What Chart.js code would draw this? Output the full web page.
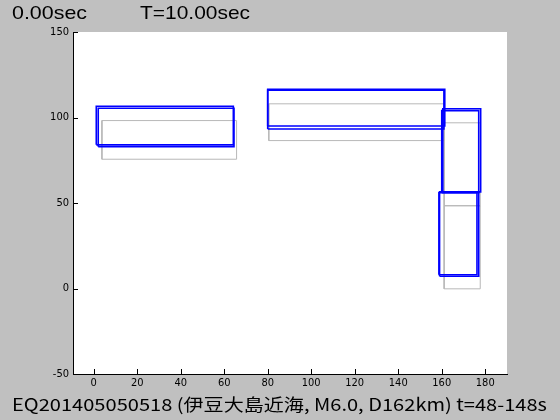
<!DOCTYPE html>
<html>
<head>
<meta charset="utf-8">
<script src="https://cdn.jsdelivr.net/npm/chart.js@4"></script>
<style>
  html, body { margin: 0; padding: 0; background: #c0c0c0; }
  #wrap { width: 560px; height: 420px; position: relative; }
</style>
</head>
<body>
<div id="wrap"><canvas id="c" width="560" height="420"></canvas></div>
<script>
// 断層モデルの矩形 [xmin, xmax, ymin, ymax]
const grayRects = [
  [3.8, 65.7, 75.6, 98.2],
  [80.5, 161.1, 86.5, 108.0],
  [161.1, 177.7, 48.4, 96.9],
  [161.1, 177.7, -0.2, 48.4]
];
const blueRects = [
  [1.2, 64.2, 84.0, 106.6],
  [2.1, 64.5, 82.9, 105.4],
  [80.0, 161.4, 95.0, 116.5],
  [80.0, 161.0, 93.3, 116.0],
  [160.5, 177.9, 56.5, 105.1],
  [160.0, 177.0, 56.0, 104.0],
  [159.0, 177.0, 7.2, 56.5],
  [158.7, 176.2, 8.0, 56.0]
];
const xTicks = [0, 20, 40, 60, 80, 100, 120, 140, 160, 180];
const yTicks = [-50, 0, 50, 100, 150];
const timeLabel = '0.00sec';
const totalLabel = 'T=10.00sec';
const caption = 'EQ201405050518 (伊豆大島近海, M6.0, D162km) t=48-148s';

function outline(r) {
  return [
    { x: r[0], y: r[2] }, { x: r[1], y: r[2] },
    { x: r[1], y: r[3] }, { x: r[0], y: r[3] },
    { x: r[0], y: r[2] }
  ];
}

const datasets = [];
blueRects.forEach(function (r) {
  datasets.push({ data: outline(r), borderColor: '#0000ff', borderWidth: 1.6 });
});
grayRects.forEach(function (r) {
  datasets.push({ data: outline(r), borderColor: '#b8b8b8', borderWidth: 1 });
});
datasets.forEach(function (d) {
  d.showLine = true; d.pointRadius = 0; d.fill = false; d.tension = 0;
});

// 横幅を合わせて文字を描く
function stretchText(ctx, text, x, y, width) {
  const w = ctx.measureText(text).width;
  ctx.save();
  ctx.translate(x, y);
  ctx.scale(width / w, 1);
  ctx.fillText(text, 0, 0);
  ctx.restore();
}

// 白い描画領域・内向きの目盛り・テキスト
const decor = {
  id: 'decor',
  beforeDraw: function (chart) {
    const ctx = chart.ctx, a = chart.chartArea;
    ctx.save();
    ctx.fillStyle = '#c0c0c0';
    ctx.fillRect(0, 0, chart.width, chart.height);
    ctx.fillStyle = '#ffffff';
    ctx.fillRect(a.left, a.top, a.right - a.left, a.bottom - a.top);
    ctx.restore();
  },
  afterDraw: function (chart) {
    const ctx = chart.ctx, a = chart.chartArea;
    const xs = chart.scales.x, ys = chart.scales.y;
    ctx.save();
    ctx.strokeStyle = '#000';
    ctx.lineWidth = 1;
    ctx.beginPath();
    xTicks.forEach(function (v) {
      const px = Math.round(xs.getPixelForValue(v)) + 0.5;
      ctx.moveTo(px, a.bottom); ctx.lineTo(px, a.bottom - 5);
    });
    yTicks.forEach(function (v) {
      const py = Math.round(ys.getPixelForValue(v)) + 0.5;
      ctx.moveTo(a.left, py); ctx.lineTo(a.left + 5, py);
    });
    ctx.stroke();

    ctx.fillStyle = '#000';
    ctx.textBaseline = 'alphabetic';
    ctx.textAlign = 'left';
    ctx.font = '19px "Liberation Sans", sans-serif';
    stretchText(ctx, timeLabel, 12, 19, 75);
    stretchText(ctx, totalLabel, 140, 19, 110);
    ctx.font = '17px "Noto Sans CJK JP", sans-serif';
    stretchText(ctx, caption, 12, 411, 535);
    ctx.restore();
  }
};

const tickFont = { family: '"Liberation Sans Narrow", "DejaVu Sans Condensed", sans-serif', size: 11 };

new Chart(document.getElementById('c'), {
  type: 'scatter',
  data: { datasets: datasets },
  options: {
    responsive: false,
    animation: false,
    layout: { padding: { left: 0, top: 32, right: 53, bottom: 0 } },
    plugins: { legend: { display: false }, tooltip: { enabled: false } },
    scales: {
      x: {
        type: 'linear', min: -9.5, max: 190,
        afterBuildTicks: function (s) { s.ticks = xTicks.map(function (v) { return { value: v }; }); },
        afterFit: function (s) { s.height = 46; },
        grid: { drawOnChartArea: false, drawTicks: false },
        border: { display: true, color: '#000', width: 1 },
        ticks: { color: '#000', font: tickFont, padding: 3, maxRotation: 0, autoSkip: false }
      },
      y: {
        type: 'linear', min: -50, max: 150,
        afterBuildTicks: function (s) { s.ticks = yTicks.map(function (v) { return { value: v }; }); },
        afterFit: function (s) { s.width = 73; },
        grid: { drawOnChartArea: false, drawTicks: false },
        border: { display: true, color: '#000', width: 1 },
        ticks: { color: '#000', font: tickFont, padding: 4 }
      }
    }
  },
  plugins: [decor]
});
</script>
</body>
</html>
